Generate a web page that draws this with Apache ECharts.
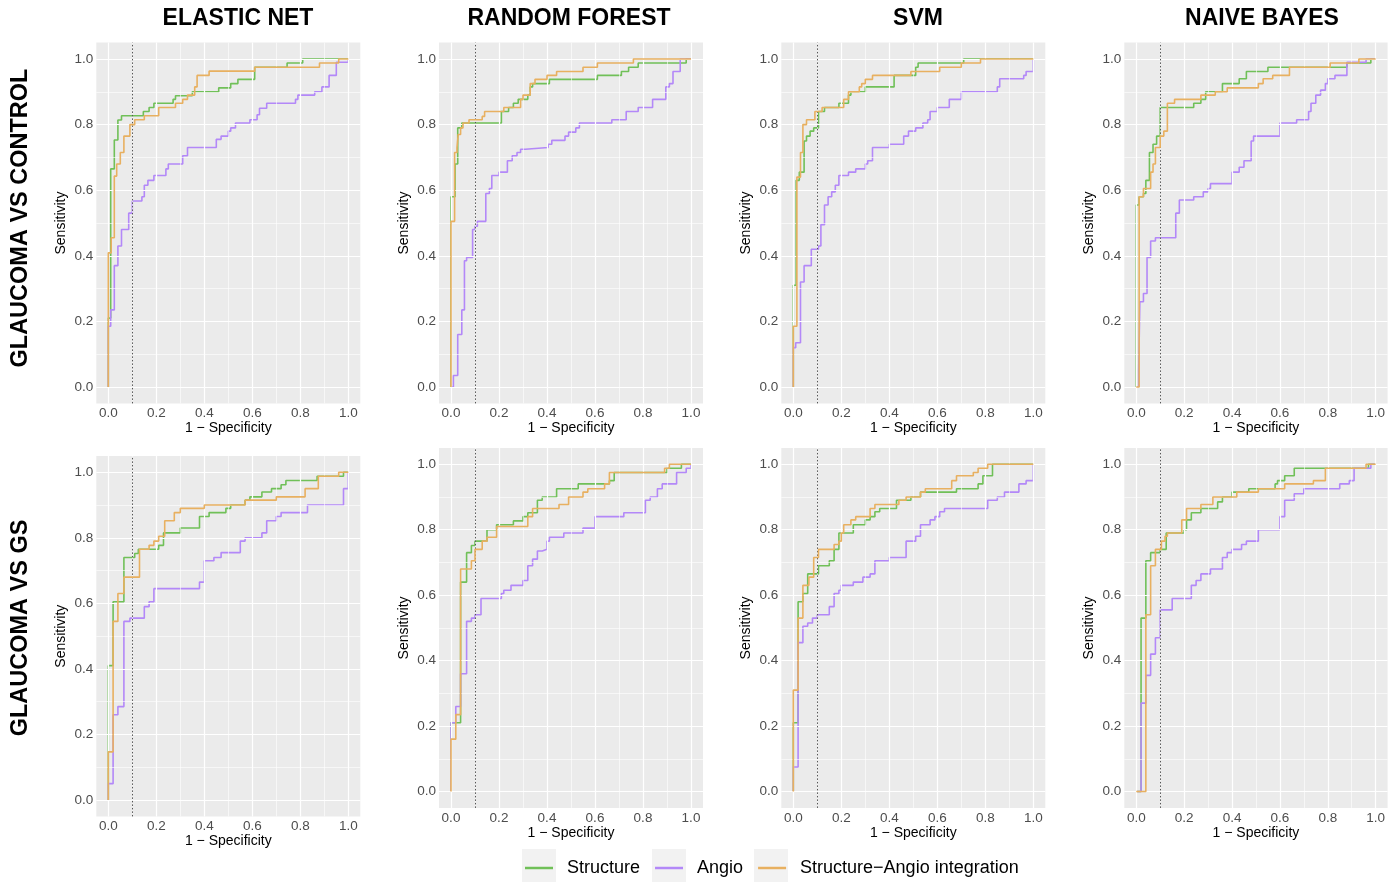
<!DOCTYPE html>
<html><head><meta charset="utf-8">
<script src="https://cdn.jsdelivr.net/npm/echarts@6/dist/echarts.min.js"></script>
<style>html,body{margin:0;padding:0;background:#fff}#c{width:1395px;height:882px}</style>
</head><body><div id="c"></div>
<script>
// ---------- labels ----------
const modelTitles = ['ELASTIC NET', 'RANDOM FOREST', 'SVM', 'NAIVE BAYES'];
const rowTitles = ['GLAUCOMA VS CONTROL', 'GLAUCOMA VS GS'];
const seriesNames = ['Structure', 'Angio', 'Structure\u2212Angio integration'];
const xAxisTitle = '1 \u2212 Specificity';
const yAxisTitle = 'Sensitivity';
const tickValues = [0, 0.2, 0.4, 0.6, 0.8, 1.0];
const minorTickValues = [0.1, 0.3, 0.5, 0.7, 0.9];
const cutoffFpr = 0.1;

// ---------- ROC curves: [1 - specificity, sensitivity] corner points ----------
// Row 1: glaucoma vs control
const enCtrlStructure = [[0,0],[0,0.21],[0.01,0.665],[0.025,0.753],[0.04,0.814],[0.055,0.827],[0.146,0.84],[0.17,0.852],[0.19,0.865],[0.27,0.877],[0.28,0.888],[0.35,0.90],[0.46,0.912],[0.51,0.925],[0.54,0.938],[0.61,0.975],[0.745,0.988],[0.81,1.0],[1,1]];
const enCtrlAngio = [[0,0],[0,0.185],[0.01,0.235],[0.025,0.37],[0.04,0.43],[0.055,0.48],[0.085,0.53],[0.1,0.567],[0.14,0.58],[0.15,0.615],[0.165,0.63],[0.19,0.645],[0.24,0.665],[0.25,0.68],[0.31,0.705],[0.33,0.73],[0.45,0.755],[0.47,0.765],[0.5,0.78],[0.51,0.79],[0.53,0.805],[0.59,0.815],[0.62,0.83],[0.63,0.85],[0.66,0.865],[0.78,0.877],[0.79,0.89],[0.86,0.90],[0.89,0.915],[0.92,0.95],[0.95,0.99],[1,1]];
const enCtrlIntegration = [[0,0],[0,0.409],[0.012,0.455],[0.025,0.643],[0.035,0.68],[0.05,0.715],[0.065,0.765],[0.09,0.80],[0.11,0.815],[0.15,0.827],[0.21,0.852],[0.28,0.865],[0.31,0.877],[0.33,0.89],[0.36,0.915],[0.37,0.95],[0.42,0.963],[0.61,0.975],[0.88,0.988],[0.96,1.0],[1,1]];

const rfCtrlStructure = [[0,0],[0,0.58],[0.017,0.68],[0.028,0.79],[0.045,0.805],[0.21,0.84],[0.24,0.852],[0.26,0.865],[0.28,0.877],[0.32,0.89],[0.33,0.915],[0.34,0.925],[0.41,0.938],[0.61,0.95],[0.71,0.962],[0.74,0.975],[0.78,0.988],[0.98,1.0],[1,1]];
const rfCtrlAngio = [[0,0],[0.01,0.035],[0.028,0.16],[0.045,0.235],[0.056,0.385],[0.065,0.395],[0.09,0.48],[0.1,0.49],[0.11,0.505],[0.145,0.59],[0.16,0.605],[0.17,0.645],[0.2,0.655],[0.235,0.69],[0.255,0.705],[0.275,0.715],[0.29,0.725],[0.31,0.73],[0.405,0.74],[0.42,0.752],[0.475,0.765],[0.49,0.777],[0.52,0.79],[0.535,0.805],[0.67,0.815],[0.73,0.84],[0.78,0.852],[0.84,0.877],[0.895,0.915],[0.91,0.925],[0.925,0.962],[0.955,1.0],[1,1]];
const rfCtrlIntegration = [[0,0],[0,0.505],[0.015,0.715],[0.025,0.73],[0.03,0.77],[0.04,0.79],[0.05,0.805],[0.075,0.815],[0.13,0.825],[0.14,0.84],[0.22,0.852],[0.29,0.877],[0.3,0.89],[0.33,0.925],[0.35,0.938],[0.4,0.95],[0.44,0.962],[0.55,0.975],[0.61,0.988],[0.76,1.0],[1,1]];

const svmCtrlStructure = [[0,0],[0,0.31],[0.012,0.63],[0.025,0.655],[0.045,0.75],[0.055,0.765],[0.07,0.78],[0.085,0.79],[0.105,0.84],[0.13,0.852],[0.19,0.865],[0.23,0.89],[0.24,0.90],[0.3,0.915],[0.42,0.95],[0.51,0.975],[0.52,0.988],[0.71,1.0],[1,1]];
const svmCtrlAngio = [[0,0],[0,0.12],[0.01,0.135],[0.03,0.32],[0.045,0.37],[0.075,0.42],[0.105,0.43],[0.115,0.495],[0.13,0.555],[0.145,0.58],[0.16,0.595],[0.175,0.615],[0.19,0.645],[0.23,0.655],[0.26,0.665],[0.3,0.68],[0.31,0.69],[0.33,0.73],[0.4,0.74],[0.46,0.765],[0.48,0.78],[0.51,0.79],[0.54,0.805],[0.56,0.815],[0.57,0.84],[0.6,0.852],[0.65,0.877],[0.7,0.90],[0.85,0.915],[0.86,0.94],[0.96,0.95],[0.97,0.962],[1,1]];
const svmCtrlIntegration = [[0,0],[0,0.185],[0.015,0.64],[0.03,0.715],[0.04,0.80],[0.055,0.815],[0.09,0.84],[0.12,0.852],[0.21,0.877],[0.23,0.90],[0.275,0.915],[0.285,0.925],[0.3,0.938],[0.33,0.95],[0.49,0.962],[0.61,0.975],[0.7,0.988],[0.78,1.0],[1,1]];

const nbCtrlStructure = [[0,0],[0,0.555],[0.012,0.58],[0.03,0.59],[0.04,0.63],[0.055,0.715],[0.07,0.74],[0.085,0.765],[0.1,0.852],[0.24,0.865],[0.27,0.877],[0.29,0.90],[0.36,0.925],[0.43,0.94],[0.46,0.962],[0.55,0.975],[0.88,0.988],[0.98,1.0],[1,1]];
const nbCtrlAngio = [[0,0],[0.01,0.05],[0.015,0.26],[0.03,0.285],[0.045,0.395],[0.06,0.445],[0.08,0.455],[0.165,0.53],[0.18,0.57],[0.24,0.58],[0.28,0.595],[0.3,0.605],[0.31,0.62],[0.4,0.655],[0.43,0.67],[0.45,0.69],[0.48,0.75],[0.49,0.765],[0.6,0.805],[0.67,0.815],[0.72,0.84],[0.73,0.865],[0.75,0.89],[0.77,0.905],[0.79,0.925],[0.8,0.94],[0.83,0.95],[0.88,0.99],[0.96,1.0],[1,1]];
const nbCtrlIntegration = [[0,0],[0.012,0.58],[0.03,0.605],[0.06,0.655],[0.07,0.68],[0.08,0.73],[0.1,0.765],[0.115,0.78],[0.13,0.865],[0.16,0.877],[0.27,0.89],[0.33,0.90],[0.38,0.912],[0.51,0.925],[0.53,0.94],[0.57,0.95],[0.64,0.975],[0.81,0.988],[0.93,1.0],[1,1]];

// Row 2: glaucoma vs GS
const enGsStructure = [[0,0],[0,0.41],[0.02,0.605],[0.065,0.74],[0.11,0.752],[0.125,0.765],[0.21,0.777],[0.23,0.815],[0.3,0.83],[0.38,0.865],[0.42,0.877],[0.49,0.89],[0.51,0.90],[0.57,0.915],[0.59,0.925],[0.64,0.94],[0.68,0.95],[0.72,0.962],[0.74,0.975],[0.87,0.988],[0.98,1.0],[1,1]];
const enGsAngio = [[0,0],[0,0.05],[0.02,0.26],[0.04,0.285],[0.065,0.545],[0.09,0.555],[0.15,0.59],[0.17,0.605],[0.19,0.645],[0.38,0.665],[0.4,0.73],[0.44,0.74],[0.47,0.755],[0.55,0.79],[0.57,0.80],[0.64,0.815],[0.66,0.852],[0.7,0.865],[0.72,0.877],[0.83,0.90],[0.98,0.95],[1,1]];
const enGsIntegration = [[0,0],[0,0.147],[0.02,0.545],[0.04,0.63],[0.065,0.68],[0.13,0.765],[0.17,0.777],[0.19,0.79],[0.21,0.805],[0.235,0.852],[0.275,0.877],[0.3,0.89],[0.4,0.90],[0.57,0.915],[0.7,0.925],[0.82,0.95],[0.875,0.988],[0.96,1.0],[1,1]];

const rfGsStructure = [[0,0],[0,0.21],[0.04,0.245],[0.04,0.64],[0.065,0.73],[0.085,0.752],[0.1,0.765],[0.15,0.80],[0.19,0.815],[0.26,0.827],[0.3,0.84],[0.32,0.852],[0.36,0.89],[0.38,0.90],[0.44,0.925],[0.53,0.94],[0.66,0.95],[0.68,0.975],[0.9,0.988],[0.96,1.0],[1,1]];
const rfGsAngio = [[0,0],[0,0.21],[0.02,0.26],[0.04,0.36],[0.065,0.52],[0.085,0.53],[0.1,0.54],[0.125,0.59],[0.21,0.605],[0.22,0.615],[0.25,0.63],[0.3,0.645],[0.32,0.69],[0.34,0.71],[0.36,0.735],[0.38,0.74],[0.4,0.765],[0.41,0.777],[0.47,0.79],[0.55,0.805],[0.6,0.84],[0.72,0.852],[0.81,0.89],[0.83,0.90],[0.86,0.925],[0.88,0.94],[0.94,0.975],[0.98,0.988],[1,1]];
const rfGsIntegration = [[0,0],[0,0.16],[0.02,0.235],[0.04,0.68],[0.085,0.705],[0.1,0.74],[0.13,0.765],[0.15,0.777],[0.19,0.81],[0.32,0.84],[0.34,0.865],[0.45,0.877],[0.49,0.90],[0.55,0.915],[0.57,0.925],[0.64,0.94],[0.66,0.975],[0.89,0.988],[0.91,1.0],[1,1]];

const svmGsStructure = [[0,0],[0,0.21],[0.02,0.58],[0.04,0.605],[0.06,0.665],[0.105,0.69],[0.15,0.705],[0.17,0.74],[0.19,0.79],[0.25,0.815],[0.3,0.83],[0.32,0.84],[0.34,0.855],[0.36,0.865],[0.43,0.89],[0.49,0.90],[0.53,0.915],[0.68,0.925],[0.77,0.94],[0.79,0.965],[0.83,1.0],[1,1]];
const svmGsAngio = [[0,0],[0,0.075],[0.02,0.455],[0.04,0.505],[0.06,0.515],[0.08,0.53],[0.1,0.54],[0.15,0.565],[0.17,0.605],[0.19,0.615],[0.2,0.63],[0.25,0.64],[0.29,0.655],[0.32,0.665],[0.34,0.705],[0.4,0.715],[0.47,0.765],[0.51,0.78],[0.53,0.815],[0.57,0.83],[0.59,0.84],[0.61,0.855],[0.63,0.865],[0.81,0.89],[0.85,0.90],[0.88,0.915],[0.94,0.94],[0.97,0.95],[1,1]];
const svmGsIntegration = [[0,0],[0,0.31],[0.02,0.53],[0.04,0.63],[0.065,0.655],[0.085,0.715],[0.105,0.74],[0.17,0.755],[0.19,0.765],[0.2,0.79],[0.21,0.815],[0.24,0.83],[0.26,0.84],[0.32,0.865],[0.34,0.877],[0.44,0.89],[0.47,0.90],[0.53,0.915],[0.55,0.925],[0.66,0.95],[0.68,0.965],[0.75,0.975],[0.77,0.988],[0.81,1.0],[1,1]];

const nbGsStructure = [[0,0],[0.02,0.53],[0.04,0.705],[0.06,0.73],[0.1,0.74],[0.125,0.79],[0.2,0.80],[0.21,0.83],[0.23,0.852],[0.27,0.865],[0.34,0.885],[0.36,0.90],[0.4,0.915],[0.47,0.925],[0.58,0.94],[0.59,0.95],[0.62,0.965],[0.66,0.988],[0.97,1.0],[1,1]];
const nbGsAngio = [[0,0],[0.02,0.01],[0.02,0.27],[0.04,0.355],[0.06,0.42],[0.08,0.47],[0.1,0.555],[0.15,0.59],[0.23,0.63],[0.25,0.645],[0.27,0.665],[0.31,0.68],[0.36,0.715],[0.38,0.73],[0.4,0.74],[0.44,0.755],[0.46,0.765],[0.51,0.80],[0.6,0.84],[0.62,0.89],[0.66,0.91],[0.7,0.925],[0.85,0.94],[0.89,0.95],[0.91,0.988],[0.98,1.0],[1,1]];
const nbGsIntegration = [[0,0],[0.04,0.54],[0.06,0.69],[0.08,0.74],[0.105,0.765],[0.12,0.78],[0.13,0.79],[0.19,0.83],[0.21,0.865],[0.27,0.877],[0.32,0.90],[0.42,0.915],[0.51,0.925],[0.62,0.94],[0.74,0.95],[0.79,0.988],[0.96,1.0],[1,1]];

const panelCurves = [
  [enCtrlStructure, enCtrlAngio, enCtrlIntegration],
  [rfCtrlStructure, rfCtrlAngio, rfCtrlIntegration],
  [svmCtrlStructure, svmCtrlAngio, svmCtrlIntegration],
  [nbCtrlStructure, nbCtrlAngio, nbCtrlIntegration],
  [enGsStructure, enGsAngio, enGsIntegration],
  [rfGsStructure, rfGsAngio, rfGsIntegration],
  [svmGsStructure, svmGsAngio, svmGsIntegration],
  [nbGsStructure, nbGsAngio, nbGsIntegration]
];

// ---------- layout / style ----------
const FONT = "'Liberation Sans', Arial, Helvetica, sans-serif";
const seriesColors = ['#70c058', '#b388f8', '#e8b060'];
const colLeft = [96.3, 439, 781.3, 1124.3];
const colWidth = [264, 264, 264, 263.3];
const panelTop = [42.6, 42.6, 42.6, 42.6, 455.9, 447.9, 447.9, 447.9];
const panelHeight = [360.8, 360.8, 360.8, 360.8, 360.5, 360, 360, 360];
const titleX = [238, 569, 918, 1262];
const rowLabelY = [218, 628];

const grids = [], xAxes = [], yAxes = [], series = [];
panelCurves.forEach((curves, p) => {
  const col = p % 4;
  grids.push({left: colLeft[col], top: panelTop[p], width: colWidth[col], height: panelHeight[p],
    show: true, backgroundColor: '#ebebeb', borderWidth: 0, containLabel: false, outerBoundsMode: 'none'});
  const common = {
    gridIndex: p, type: 'value', min: -0.05, max: 1.05,
    axisLine: {show: false},
    axisTick: {show: true, length: 3, lineStyle: {color: '#333', width: 1}, customValues: tickValues},
    axisLabel: {customValues: tickValues, formatter: v => v.toFixed(1), color: '#4d4d4d', fontSize: 13.5, fontFamily: FONT, margin: 3},
    splitLine: {show: false},
    nameLocation: 'middle',
    nameTextStyle: {color: '#000', fontSize: 14, fontFamily: FONT}
  };
  xAxes.push(Object.assign({}, common, {name: xAxisTitle, nameGap: 18}));
  yAxes.push(Object.assign({}, common, {name: yAxisTitle, nameGap: 28}));

  const lines = [];
  minorTickValues.forEach(v => {
    lines.push({xAxis: v, lineStyle: {color: '#fff', width: 0.6, type: 'solid'}});
    lines.push({yAxis: v, lineStyle: {color: '#fff', width: 0.6, type: 'solid'}});
  });
  tickValues.forEach(v => {
    lines.push({xAxis: v, lineStyle: {color: '#fff', width: 1.2, type: 'solid'}});
    lines.push({yAxis: v, lineStyle: {color: '#fff', width: 1.2, type: 'solid'}});
  });
  lines.push({xAxis: cutoffFpr, lineStyle: {color: '#555', width: 1, type: [1.5, 2]}});
  series.push({
    type: 'line', xAxisIndex: p, yAxisIndex: p, data: [[-0.05, -0.05]], showSymbol: false, symbol: 'none',
    silent: true, z: 1, lineStyle: {width: 0},
    markLine: {silent: true, symbol: ['none', 'none'], label: {show: false}, emphasis: {disabled: true}, animation: false, data: lines}
  });

  curves.forEach((data, s) => {
    series.push({
      name: seriesNames[s], type: 'line', step: 'end', xAxisIndex: p, yAxisIndex: p,
      data: data, showSymbol: false, symbol: 'none', z: 3 + s,
      lineStyle: {color: seriesColors[s], width: 1.6},
      itemStyle: {color: seriesColors[s]},
      emphasis: {disabled: true}
    });
  });
});

const graphics = [];
modelTitles.forEach((t, i) => {
  graphics.push({type: 'text', x: titleX[i], y: 19, z: 10,
    style: {text: t, font: 'bold 23px ' + FONT, fill: '#000', align: 'center', verticalAlign: 'middle', textAlign: 'center', textVerticalAlign: 'middle'}});
});
rowTitles.forEach((t, i) => {
  graphics.push({type: 'text', x: 21, y: rowLabelY[i], rotation: Math.PI / 2, z: 10,
    style: {text: t, font: 'bold 23.5px ' + FONT, fill: '#000', align: 'center', verticalAlign: 'middle', textAlign: 'center', textVerticalAlign: 'middle'}});
});
[522, 652, 754].forEach(x => {
  graphics.push({type: 'rect', z: -1, shape: {x: x, y: 849, width: 34, height: 33}, style: {fill: '#f2f2f2'}});
});

const chart = echarts.init(document.getElementById('c'), null, {renderer: 'canvas'});
chart.setOption({
  animation: false,
  backgroundColor: '#fff',
  grid: grids, xAxis: xAxes, yAxis: yAxes, series: series,
  legend: {
    data: seriesNames, left: 525, top: 859, padding: 0, itemGap: 15,
    icon: 'rect', itemWidth: 28, itemHeight: 2.5, selectedMode: false,
    textStyle: {color: '#000', fontSize: 18, fontFamily: FONT, padding: [0, 0, 0, 9]}
  },
  graphic: graphics
});
</script></body></html>
